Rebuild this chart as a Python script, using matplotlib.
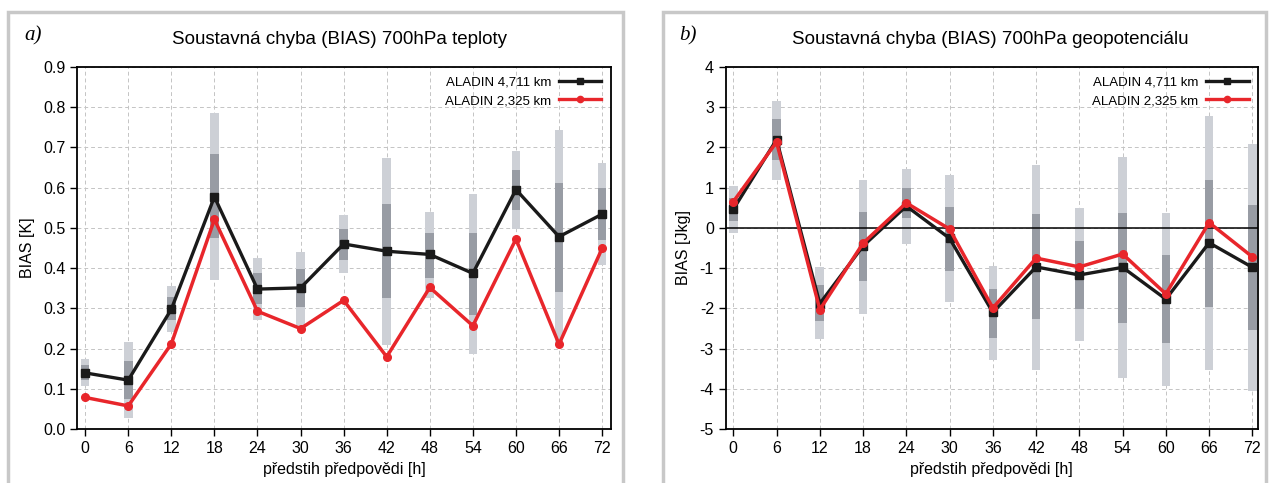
import matplotlib
matplotlib.use("Agg")
import matplotlib.pyplot as plt
from matplotlib.patches import Rectangle
from matplotlib.lines import Line2D

plt.rcParams['font.family'] = ['Liberation Sans', 'DejaVu Sans']
plt.rcParams['axes.unicode_minus'] = False

hours = [0, 6, 12, 18, 24, 30, 36, 42, 48, 54, 60, 66, 72]
labels = ["ALADIN 4,711 km", "ALADIN 2,325 km"]

# a) 700hPa teplota
a_black = [0.140, 0.122, 0.298, 0.577, 0.348, 0.351, 0.460, 0.442, 0.434, 0.387, 0.595, 0.478, 0.534]
a_red = [0.079, 0.058, 0.212, 0.521, 0.293, 0.250, 0.320, 0.180, 0.352, 0.257, 0.472, 0.211, 0.449]
a_lo = [0.108, 0.027, 0.242, 0.370, 0.271, 0.255, 0.387, 0.209, 0.325, 0.186, 0.497, 0.213, 0.407]
a_hi = [0.174, 0.216, 0.356, 0.786, 0.424, 0.440, 0.533, 0.673, 0.540, 0.585, 0.690, 0.744, 0.661]
a_q1 = [0.122, 0.074, 0.271, 0.475, 0.312, 0.304, 0.420, 0.325, 0.376, 0.283, 0.544, 0.341, 0.471]
a_q3 = [0.160, 0.169, 0.329, 0.683, 0.388, 0.397, 0.497, 0.558, 0.488, 0.488, 0.643, 0.611, 0.599]

# b) 700hPa geopotencial
b_black = [0.46, 2.19, -1.88, -0.45, 0.54, -0.26, -2.10, -0.97, -1.17, -0.98, -1.77, -0.37, -0.98]
b_red = [0.65, 2.13, -2.03, -0.38, 0.62, -0.03, -1.99, -0.75, -0.97, -0.65, -1.64, 0.13, -0.72]
b_lo = [-0.12, 1.20, -2.77, -2.14, -0.41, -1.85, -3.28, -3.52, -2.82, -3.72, -3.93, -3.54, -4.05]
b_hi = [1.04, 3.16, -0.97, 1.19, 1.45, 1.31, -0.94, 1.57, 0.49, 1.76, 0.38, 2.77, 2.08]
b_q1 = [0.17, 1.68, -2.32, -1.31, 0.25, -1.07, -2.73, -2.26, -2.01, -2.36, -2.87, -1.97, -2.53]
b_q3 = [0.75, 2.69, -1.41, 0.39, 0.99, 0.53, -1.52, 0.34, -0.32, 0.38, -0.67, 1.20, 0.56]

LIGHT = '#cdd0d6'
DARK = '#989ca4'
RED = '#e8262b'
BLACK = '#1a1a1a'

fig = plt.figure(figsize=(12.71, 4.83), dpi=100)

# panel frames
for x0, w in [(8, 615), (663, 603)]:
    fig.patches.append(Rectangle((x0 / 1271, -0.05), w / 1271, 1 - 12 / 483 + 0.05,
                                 transform=fig.transFigure, fill=False,
                                 edgecolor='#c8c8c8', lw=2.5))


def panel(ax, black, red, lo, hi, q1, q3):
    bw = 1.2
    ax.bar(hours, [h - l for h, l in zip(hi, lo)], bottom=lo, width=bw,
           color=LIGHT, zorder=2)
    ax.bar(hours, [h - l for h, l in zip(q3, q1)], bottom=q1, width=bw,
           color=DARK, zorder=3)
    ax.plot(hours, black, color=BLACK, lw=2.4, marker='s', ms=6, zorder=5)
    ax.plot(hours, red, color=RED, lw=2.5, marker='o', ms=5.5, zorder=6)
    ax.set_xticks(hours)
    ax.grid(True, ls=(0, (4, 3)), color='#c4c4c4', lw=0.7, zorder=0)
    ax.set_axisbelow(True)
    ax.tick_params(direction='out', length=5, labelsize=11.5, width=1,
                   top=False, right=False)
    for s in ax.spines.values():
        s.set_linewidth(1.3)
    ax.set_xlabel("předstih předpovědi [h]", fontsize=11.5, labelpad=4)
    handles = [Line2D([], [], color=BLACK, lw=2.4, marker='s', ms=5),
               Line2D([], [], color=RED, lw=2.4, marker='o', ms=4.5)]
    ax.legend(handles, labels, loc='upper right', frameon=False, markerfirst=False,
              fontsize=9.5, handlelength=3.2, handletextpad=0.6, labelspacing=0.5,
              borderaxespad=0.3)


ax1 = fig.add_axes([0.0608, 0.1112, 0.4197, 0.7507])
panel(ax1, a_black, a_red, a_lo, a_hi, a_q1, a_q3)
ax1.set_xlim(-1.1, 73.2)
ax1.set_ylim(0, 0.9)
ax1.set_yticks([i / 10 for i in range(10)])
ax1.set_yticklabels([f"{i / 10:.1f}" for i in range(10)])
ax1.set_ylabel("BIAS [K]", fontsize=11.5, labelpad=6)

ax2 = fig.add_axes([0.5710, 0.1112, 0.4186, 0.7507])
panel(ax2, b_black, b_red, b_lo, b_hi, b_q1, b_q3)
ax2.set_xlim(-1.05, 72.75)
ax2.set_ylim(-5, 4)
ax2.set_yticks(range(-5, 5))
ax2.axhline(0, color='black', lw=1.1, zorder=4)
ax2.set_ylabel("BIAS [Jkg]", fontsize=11.5, labelpad=6)

fig.text(340 / 1271, 1 - 39 / 483, "Soustavná chyba (BIAS) 700hPa teploty",
         ha='center', va='center', fontsize=13.5)
fig.text(990 / 1271, 1 - 39 / 483, "Soustavná chyba (BIAS) 700hPa geopotenciálu",
         ha='center', va='center', fontsize=13.5)
fig.text(24 / 1271, 1 - 36 / 483, "a)", ha='left', va='center', fontsize=15,
         style='italic', family='Liberation Serif')
fig.text(679 / 1271, 1 - 36 / 483, "b)", ha='left', va='center', fontsize=15,
         style='italic', family='Liberation Serif')

fig.savefig("out.png", dpi=100)
